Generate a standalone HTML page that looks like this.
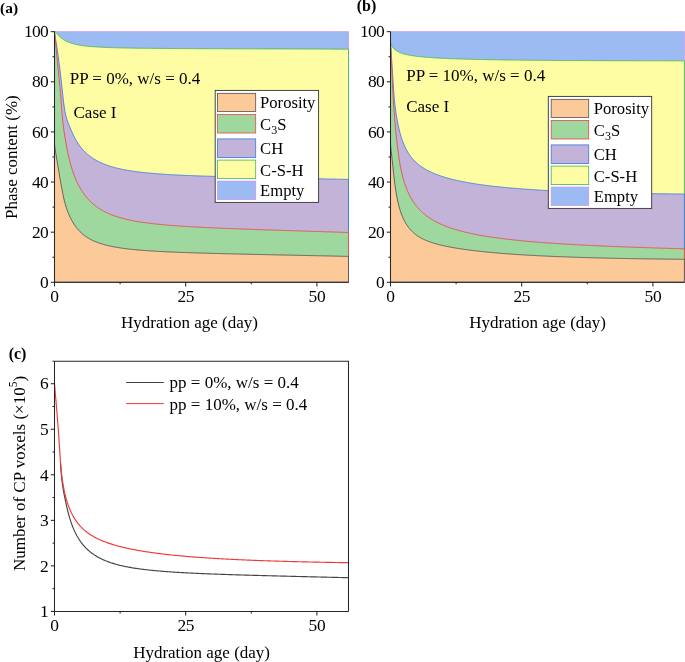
<!DOCTYPE html>
<html><head><meta charset="utf-8"><title>Phase content</title>
<style>html,body{margin:0;padding:0;background:#fff;}svg{display:block;will-change:transform;}text{fill:#000;}</style></head><body>
<svg width="685" height="662" viewBox="0 0 685 662">
<rect width="685" height="662" fill="#fff"/>
<g id="panelA">
<polygon points="54.50,282.30 54.50,31.65 348.50,31.65 348.50,282.30" fill="#9CBBF3" stroke="#C796EC" stroke-width="0.85" stroke-linejoin="round"/>
<polygon points="54.50,282.30 54.50,31.65 55.25,31.76 56.00,32.45 56.75,33.30 57.50,34.19 58.25,35.04 59.00,35.85 59.75,36.60 60.50,37.30 61.25,37.94 62.00,38.54 62.75,39.09 63.50,39.60 64.25,40.07 65.00,40.51 65.75,40.92 66.50,41.29 67.25,41.64 68.00,41.97 68.75,42.27 69.50,42.55 70.25,42.82 71.00,43.07 71.75,43.31 72.50,43.53 73.25,43.74 74.00,43.94 74.75,44.13 75.50,44.30 76.25,44.47 77.00,44.63 77.75,44.78 78.50,44.93 79.25,45.06 80.00,45.19 80.75,45.32 81.50,45.44 82.25,45.55 83.00,45.66 83.75,45.76 84.50,45.86 85.25,45.95 86.00,46.04 86.75,46.12 87.50,46.20 88.25,46.28 89.00,46.36 89.75,46.43 90.50,46.50 91.25,46.56 92.00,46.62 92.75,46.68 93.50,46.74 94.25,46.80 95.00,46.85 95.75,46.90 96.50,46.95 97.25,47.00 98.00,47.04 98.75,47.09 99.50,47.13 100.25,47.17 101.00,47.21 101.75,47.25 102.50,47.28 103.25,47.32 104.00,47.35 104.75,47.39 105.50,47.42 106.25,47.45 107.00,47.48 107.75,47.51 108.50,47.54 109.25,47.57 110.00,47.59 110.75,47.62 111.50,47.64 112.25,47.67 113.00,47.69 113.75,47.71 114.50,47.74 115.25,47.76 116.00,47.78 116.75,47.80 117.50,47.82 118.25,47.84 119.00,47.86 119.75,47.88 120.50,47.89 121.25,47.91 122.00,47.93 122.75,47.94 123.50,47.96 124.25,47.98 125.00,47.99 125.75,48.01 126.50,48.02 127.25,48.03 128.00,48.05 128.75,48.06 129.50,48.07 130.25,48.09 131.00,48.10 131.75,48.11 132.50,48.12 133.25,48.13 134.00,48.15 134.75,48.16 135.50,48.17 136.25,48.18 137.00,48.19 137.75,48.20 138.50,48.21 139.25,48.22 140.00,48.23 140.75,48.24 141.50,48.25 142.25,48.26 143.00,48.26 143.75,48.27 144.50,48.28 145.25,48.29 146.00,48.30 146.75,48.31 147.50,48.31 148.25,48.32 149.00,48.33 149.75,48.34 150.50,48.34 151.25,48.35 152.00,48.36 152.75,48.36 153.50,48.37 154.25,48.38 155.00,48.38 155.75,48.39 156.50,48.40 157.25,48.40 158.00,48.41 158.75,48.41 159.50,48.42 160.25,48.43 161.00,48.43 161.75,48.44 162.50,48.44 163.25,48.45 164.00,48.45 164.75,48.46 165.50,48.46 166.25,48.47 167.00,48.47 167.75,48.48 168.50,48.48 169.25,48.49 170.00,48.49 170.75,48.50 171.50,48.50 172.25,48.51 173.00,48.51 173.75,48.52 174.50,48.52 175.25,48.53 176.00,48.53 176.75,48.53 177.50,48.54 178.25,48.54 179.00,48.55 179.75,48.55 180.50,48.55 181.25,48.56 182.00,48.56 182.75,48.57 183.50,48.57 184.25,48.57 185.00,48.58 185.75,48.58 186.50,48.59 187.25,48.59 188.00,48.59 188.75,48.60 189.50,48.60 190.25,48.60 191.00,48.61 191.75,48.61 192.50,48.61 193.25,48.62 194.00,48.62 194.75,48.62 195.50,48.63 196.25,48.63 197.00,48.63 197.75,48.64 198.50,48.64 199.25,48.64 200.00,48.65 200.75,48.65 201.50,48.65 202.25,48.66 203.00,48.66 203.75,48.66 204.50,48.67 205.25,48.67 206.00,48.67 206.75,48.68 207.50,48.68 208.25,48.68 209.00,48.68 209.75,48.69 210.50,48.69 211.25,48.69 212.00,48.70 212.75,48.70 213.50,48.70 214.25,48.70 215.00,48.71 215.75,48.71 216.50,48.71 217.25,48.72 218.00,48.72 218.75,48.72 219.50,48.72 220.25,48.73 221.00,48.73 221.75,48.73 222.50,48.74 223.25,48.74 224.00,48.74 224.75,48.74 225.50,48.75 226.25,48.75 227.00,48.75 227.75,48.75 228.50,48.76 229.25,48.76 230.00,48.76 230.75,48.77 231.50,48.77 232.25,48.77 233.00,48.77 233.75,48.78 234.50,48.78 235.25,48.78 236.00,48.78 236.75,48.79 237.50,48.79 238.25,48.79 239.00,48.79 239.75,48.80 240.50,48.80 241.25,48.80 242.00,48.81 242.75,48.81 243.50,48.81 244.25,48.81 245.00,48.82 245.75,48.82 246.50,48.82 247.25,48.82 248.00,48.83 248.75,48.83 249.50,48.83 250.25,48.83 251.00,48.84 251.75,48.84 252.50,48.84 253.25,48.84 254.00,48.85 254.75,48.85 255.50,48.85 256.25,48.85 257.00,48.86 257.75,48.86 258.50,48.86 259.25,48.87 260.00,48.87 260.75,48.87 261.50,48.87 262.25,48.88 263.00,48.88 263.75,48.88 264.50,48.88 265.25,48.89 266.00,48.89 266.75,48.89 267.50,48.89 268.25,48.90 269.00,48.90 269.75,48.90 270.50,48.90 271.25,48.91 272.00,48.91 272.75,48.91 273.50,48.91 274.25,48.92 275.00,48.92 275.75,48.92 276.50,48.93 277.25,48.93 278.00,48.93 278.75,48.93 279.50,48.94 280.25,48.94 281.00,48.94 281.75,48.94 282.50,48.95 283.25,48.95 284.00,48.95 284.75,48.95 285.50,48.96 286.25,48.96 287.00,48.96 287.75,48.96 288.50,48.97 289.25,48.97 290.00,48.97 290.75,48.98 291.50,48.98 292.25,48.98 293.00,48.98 293.75,48.99 294.50,48.99 295.25,48.99 296.00,48.99 296.75,49.00 297.50,49.00 298.25,49.00 299.00,49.00 299.75,49.01 300.50,49.01 301.25,49.01 302.00,49.02 302.75,49.02 303.50,49.02 304.25,49.02 305.00,49.03 305.75,49.03 306.50,49.03 307.25,49.03 308.00,49.04 308.75,49.04 309.50,49.04 310.25,49.05 311.00,49.05 311.75,49.05 312.50,49.05 313.25,49.06 314.00,49.06 314.75,49.06 315.50,49.06 316.25,49.07 317.00,49.07 317.75,49.07 318.50,49.08 319.25,49.08 320.00,49.08 320.75,49.08 321.50,49.09 322.25,49.09 323.00,49.09 323.75,49.10 324.50,49.10 325.25,49.10 326.00,49.10 326.75,49.11 327.50,49.11 328.25,49.11 329.00,49.11 329.75,49.12 330.50,49.12 331.25,49.12 332.00,49.13 332.75,49.13 333.50,49.13 334.25,49.13 335.00,49.14 335.75,49.14 336.50,49.14 337.25,49.15 338.00,49.15 338.75,49.15 339.50,49.15 340.25,49.16 341.00,49.16 341.75,49.16 342.50,49.17 343.25,49.17 344.00,49.17 344.75,49.17 345.50,49.18 346.25,49.18 347.00,49.18 347.75,49.19 348.50,49.19 348.50,282.30" fill="#FFFDA3" stroke="#3DB856" stroke-width="0.85" stroke-linejoin="round"/>
<polygon points="54.50,282.30 54.50,31.65 55.25,37.02 56.00,41.64 56.75,46.39 57.50,51.45 58.25,56.80 59.00,62.42 59.75,68.31 60.50,74.51 61.25,81.03 62.00,87.86 62.75,94.86 63.50,101.45 64.25,107.11 65.00,111.67 65.75,115.28 66.50,118.19 67.25,120.60 68.00,122.69 68.75,124.56 69.50,126.31 70.25,128.01 71.00,129.73 71.75,131.44 72.50,133.13 73.25,134.77 74.00,136.34 74.75,137.82 75.50,139.22 76.25,140.55 77.00,141.80 77.75,142.99 78.50,144.12 79.25,145.20 80.00,146.22 80.75,147.20 81.50,148.12 82.25,149.01 83.00,149.86 83.75,150.67 84.50,151.45 85.25,152.19 86.00,152.90 86.75,153.59 87.50,154.25 88.25,154.88 89.00,155.49 89.75,156.07 90.50,156.63 91.25,157.17 92.00,157.70 92.75,158.20 93.50,158.68 94.25,159.15 95.00,159.60 95.75,160.04 96.50,160.46 97.25,160.87 98.00,161.27 98.75,161.65 99.50,162.02 100.25,162.38 101.00,162.73 101.75,163.06 102.50,163.39 103.25,163.70 104.00,164.01 104.75,164.31 105.50,164.60 106.25,164.88 107.00,165.15 107.75,165.41 108.50,165.67 109.25,165.92 110.00,166.16 110.75,166.40 111.50,166.63 112.25,166.85 113.00,167.07 113.75,167.28 114.50,167.48 115.25,167.68 116.00,167.88 116.75,168.07 117.50,168.25 118.25,168.43 119.00,168.61 119.75,168.78 120.50,168.94 121.25,169.10 122.00,169.26 122.75,169.42 123.50,169.57 124.25,169.71 125.00,169.86 125.75,169.99 126.50,170.13 127.25,170.26 128.00,170.39 128.75,170.52 129.50,170.64 130.25,170.76 131.00,170.88 131.75,171.00 132.50,171.11 133.25,171.22 134.00,171.33 134.75,171.43 135.50,171.54 136.25,171.64 137.00,171.73 137.75,171.83 138.50,171.93 139.25,172.02 140.00,172.11 140.75,172.20 141.50,172.28 142.25,172.37 143.00,172.45 143.75,172.53 144.50,172.61 145.25,172.69 146.00,172.77 146.75,172.84 147.50,172.92 148.25,172.99 149.00,173.06 149.75,173.13 150.50,173.20 151.25,173.27 152.00,173.33 152.75,173.40 153.50,173.46 154.25,173.52 155.00,173.58 155.75,173.64 156.50,173.70 157.25,173.76 158.00,173.82 158.75,173.87 159.50,173.93 160.25,173.98 161.00,174.04 161.75,174.09 162.50,174.14 163.25,174.19 164.00,174.24 164.75,174.29 165.50,174.34 166.25,174.38 167.00,174.43 167.75,174.48 168.50,174.52 169.25,174.57 170.00,174.61 170.75,174.65 171.50,174.70 172.25,174.74 173.00,174.78 173.75,174.82 174.50,174.86 175.25,174.90 176.00,174.94 176.75,174.98 177.50,175.01 178.25,175.05 179.00,175.09 179.75,175.12 180.50,175.16 181.25,175.19 182.00,175.23 182.75,175.26 183.50,175.30 184.25,175.33 185.00,175.36 185.75,175.40 186.50,175.43 187.25,175.46 188.00,175.49 188.75,175.52 189.50,175.55 190.25,175.59 191.00,175.62 191.75,175.64 192.50,175.67 193.25,175.70 194.00,175.73 194.75,175.76 195.50,175.79 196.25,175.82 197.00,175.84 197.75,175.87 198.50,175.90 199.25,175.92 200.00,175.95 200.75,175.98 201.50,176.00 202.25,176.03 203.00,176.05 203.75,176.08 204.50,176.10 205.25,176.13 206.00,176.15 206.75,176.18 207.50,176.20 208.25,176.22 209.00,176.25 209.75,176.27 210.50,176.29 211.25,176.32 212.00,176.34 212.75,176.36 213.50,176.38 214.25,176.41 215.00,176.43 215.75,176.45 216.50,176.47 217.25,176.49 218.00,176.52 218.75,176.54 219.50,176.56 220.25,176.58 221.00,176.60 221.75,176.62 222.50,176.64 223.25,176.66 224.00,176.68 224.75,176.70 225.50,176.72 226.25,176.74 227.00,176.76 227.75,176.78 228.50,176.80 229.25,176.82 230.00,176.84 230.75,176.86 231.50,176.88 232.25,176.90 233.00,176.91 233.75,176.93 234.50,176.95 235.25,176.97 236.00,176.99 236.75,177.01 237.50,177.03 238.25,177.04 239.00,177.06 239.75,177.08 240.50,177.10 241.25,177.12 242.00,177.13 242.75,177.15 243.50,177.17 244.25,177.19 245.00,177.20 245.75,177.22 246.50,177.24 247.25,177.26 248.00,177.27 248.75,177.29 249.50,177.31 250.25,177.32 251.00,177.34 251.75,177.36 252.50,177.38 253.25,177.39 254.00,177.41 254.75,177.43 255.50,177.44 256.25,177.46 257.00,177.48 257.75,177.49 258.50,177.51 259.25,177.53 260.00,177.54 260.75,177.56 261.50,177.58 262.25,177.59 263.00,177.61 263.75,177.62 264.50,177.64 265.25,177.66 266.00,177.67 266.75,177.69 267.50,177.71 268.25,177.72 269.00,177.74 269.75,177.75 270.50,177.77 271.25,177.79 272.00,177.80 272.75,177.82 273.50,177.83 274.25,177.85 275.00,177.86 275.75,177.88 276.50,177.90 277.25,177.91 278.00,177.93 278.75,177.94 279.50,177.96 280.25,177.98 281.00,177.99 281.75,178.01 282.50,178.02 283.25,178.04 284.00,178.05 284.75,178.07 285.50,178.09 286.25,178.10 287.00,178.12 287.75,178.13 288.50,178.15 289.25,178.16 290.00,178.18 290.75,178.19 291.50,178.21 292.25,178.23 293.00,178.24 293.75,178.26 294.50,178.27 295.25,178.29 296.00,178.30 296.75,178.32 297.50,178.33 298.25,178.35 299.00,178.37 299.75,178.38 300.50,178.40 301.25,178.41 302.00,178.43 302.75,178.44 303.50,178.46 304.25,178.47 305.00,178.49 305.75,178.50 306.50,178.52 307.25,178.54 308.00,178.55 308.75,178.57 309.50,178.58 310.25,178.60 311.00,178.61 311.75,178.63 312.50,178.64 313.25,178.66 314.00,178.68 314.75,178.69 315.50,178.71 316.25,178.72 317.00,178.74 317.75,178.75 318.50,178.77 319.25,178.78 320.00,178.80 320.75,178.82 321.50,178.83 322.25,178.85 323.00,178.86 323.75,178.88 324.50,178.89 325.25,178.91 326.00,178.93 326.75,178.94 327.50,178.96 328.25,178.97 329.00,178.99 329.75,179.00 330.50,179.02 331.25,179.04 332.00,179.05 332.75,179.07 333.50,179.08 334.25,179.10 335.00,179.11 335.75,179.13 336.50,179.15 337.25,179.16 338.00,179.18 338.75,179.19 339.50,179.21 340.25,179.22 341.00,179.24 341.75,179.26 342.50,179.27 343.25,179.29 344.00,179.30 344.75,179.32 345.50,179.34 346.25,179.35 347.00,179.37 347.75,179.38 348.50,179.40 348.50,282.30" fill="#C4B3D8" stroke="#3778E4" stroke-width="0.85" stroke-linejoin="round"/>
<polygon points="54.50,282.30 54.50,31.65 55.25,39.45 56.00,47.15 56.75,54.92 57.50,62.74 58.25,70.57 59.00,78.27 59.75,85.74 60.50,93.65 61.25,103.10 62.00,113.22 62.75,121.17 63.50,127.33 64.25,132.64 65.00,137.53 65.75,142.04 66.50,146.21 67.25,150.08 68.00,153.67 68.75,157.00 69.50,160.10 70.25,162.98 71.00,165.67 71.75,168.19 72.50,170.54 73.25,172.75 74.00,174.84 74.75,176.80 75.50,178.65 76.25,180.40 77.00,182.06 77.75,183.63 78.50,185.12 79.25,186.54 80.00,187.89 80.75,189.18 81.50,190.41 82.25,191.58 83.00,192.70 83.75,193.77 84.50,194.79 85.25,195.78 86.00,196.72 86.75,197.62 87.50,198.49 88.25,199.32 89.00,200.12 89.75,200.89 90.50,201.63 91.25,202.34 92.00,203.03 92.75,203.69 93.50,204.33 94.25,204.95 95.00,205.54 95.75,206.12 96.50,206.67 97.25,207.21 98.00,207.73 98.75,208.23 99.50,208.72 100.25,209.19 101.00,209.64 101.75,210.08 102.50,210.51 103.25,210.92 104.00,211.33 104.75,211.71 105.50,212.09 106.25,212.46 107.00,212.81 107.75,213.16 108.50,213.49 109.25,213.82 110.00,214.14 110.75,214.44 111.50,214.74 112.25,215.03 113.00,215.31 113.75,215.59 114.50,215.85 115.25,216.11 116.00,216.37 116.75,216.61 117.50,216.85 118.25,217.09 119.00,217.32 119.75,217.54 120.50,217.75 121.25,217.97 122.00,218.17 122.75,218.37 123.50,218.57 124.25,218.76 125.00,218.95 125.75,219.13 126.50,219.31 127.25,219.48 128.00,219.65 128.75,219.82 129.50,219.98 130.25,220.14 131.00,220.29 131.75,220.45 132.50,220.59 133.25,220.74 134.00,220.88 134.75,221.02 135.50,221.16 136.25,221.29 137.00,221.42 137.75,221.55 138.50,221.68 139.25,221.80 140.00,221.92 140.75,222.04 141.50,222.15 142.25,222.27 143.00,222.38 143.75,222.49 144.50,222.59 145.25,222.70 146.00,222.80 146.75,222.90 147.50,223.00 148.25,223.10 149.00,223.20 149.75,223.29 150.50,223.38 151.25,223.47 152.00,223.56 152.75,223.65 153.50,223.74 154.25,223.82 155.00,223.90 155.75,223.99 156.50,224.07 157.25,224.15 158.00,224.22 158.75,224.30 159.50,224.38 160.25,224.45 161.00,224.52 161.75,224.60 162.50,224.67 163.25,224.74 164.00,224.81 164.75,224.87 165.50,224.94 166.25,225.01 167.00,225.07 167.75,225.13 168.50,225.20 169.25,225.26 170.00,225.32 170.75,225.38 171.50,225.44 172.25,225.50 173.00,225.56 173.75,225.61 174.50,225.67 175.25,225.72 176.00,225.78 176.75,225.83 177.50,225.89 178.25,225.94 179.00,225.99 179.75,226.04 180.50,226.09 181.25,226.14 182.00,226.19 182.75,226.24 183.50,226.29 184.25,226.34 185.00,226.39 185.75,226.43 186.50,226.48 187.25,226.53 188.00,226.57 188.75,226.62 189.50,226.66 190.25,226.70 191.00,226.75 191.75,226.79 192.50,226.83 193.25,226.88 194.00,226.92 194.75,226.96 195.50,227.00 196.25,227.04 197.00,227.08 197.75,227.12 198.50,227.16 199.25,227.20 200.00,227.24 200.75,227.28 201.50,227.31 202.25,227.35 203.00,227.39 203.75,227.43 204.50,227.46 205.25,227.50 206.00,227.53 206.75,227.57 207.50,227.61 208.25,227.64 209.00,227.68 209.75,227.71 210.50,227.75 211.25,227.78 212.00,227.81 212.75,227.85 213.50,227.88 214.25,227.91 215.00,227.95 215.75,227.98 216.50,228.01 217.25,228.05 218.00,228.08 218.75,228.11 219.50,228.14 220.25,228.17 221.00,228.20 221.75,228.24 222.50,228.27 223.25,228.30 224.00,228.33 224.75,228.36 225.50,228.39 226.25,228.42 227.00,228.45 227.75,228.48 228.50,228.51 229.25,228.54 230.00,228.57 230.75,228.60 231.50,228.63 232.25,228.65 233.00,228.68 233.75,228.71 234.50,228.74 235.25,228.77 236.00,228.80 236.75,228.82 237.50,228.85 238.25,228.88 239.00,228.91 239.75,228.94 240.50,228.96 241.25,228.99 242.00,229.02 242.75,229.05 243.50,229.07 244.25,229.10 245.00,229.13 245.75,229.15 246.50,229.18 247.25,229.21 248.00,229.23 248.75,229.26 249.50,229.29 250.25,229.31 251.00,229.34 251.75,229.37 252.50,229.39 253.25,229.42 254.00,229.44 254.75,229.47 255.50,229.50 256.25,229.52 257.00,229.55 257.75,229.57 258.50,229.60 259.25,229.63 260.00,229.65 260.75,229.68 261.50,229.70 262.25,229.73 263.00,229.75 263.75,229.78 264.50,229.80 265.25,229.83 266.00,229.85 266.75,229.88 267.50,229.90 268.25,229.93 269.00,229.95 269.75,229.98 270.50,230.00 271.25,230.03 272.00,230.05 272.75,230.08 273.50,230.10 274.25,230.13 275.00,230.15 275.75,230.18 276.50,230.20 277.25,230.22 278.00,230.25 278.75,230.27 279.50,230.30 280.25,230.32 281.00,230.35 281.75,230.37 282.50,230.40 283.25,230.42 284.00,230.44 284.75,230.47 285.50,230.49 286.25,230.52 287.00,230.54 287.75,230.56 288.50,230.59 289.25,230.61 290.00,230.64 290.75,230.66 291.50,230.69 292.25,230.71 293.00,230.73 293.75,230.76 294.50,230.78 295.25,230.81 296.00,230.83 296.75,230.85 297.50,230.88 298.25,230.90 299.00,230.93 299.75,230.95 300.50,230.97 301.25,231.00 302.00,231.02 302.75,231.05 303.50,231.07 304.25,231.09 305.00,231.12 305.75,231.14 306.50,231.16 307.25,231.19 308.00,231.21 308.75,231.24 309.50,231.26 310.25,231.28 311.00,231.31 311.75,231.33 312.50,231.36 313.25,231.38 314.00,231.40 314.75,231.43 315.50,231.45 316.25,231.48 317.00,231.50 317.75,231.52 318.50,231.55 319.25,231.57 320.00,231.59 320.75,231.62 321.50,231.64 322.25,231.67 323.00,231.69 323.75,231.71 324.50,231.74 325.25,231.76 326.00,231.79 326.75,231.81 327.50,231.83 328.25,231.86 329.00,231.88 329.75,231.91 330.50,231.93 331.25,231.95 332.00,231.98 332.75,232.00 333.50,232.03 334.25,232.05 335.00,232.07 335.75,232.10 336.50,232.12 337.25,232.15 338.00,232.17 338.75,232.19 339.50,232.22 340.25,232.24 341.00,232.27 341.75,232.29 342.50,232.31 343.25,232.34 344.00,232.36 344.75,232.39 345.50,232.41 346.25,232.44 347.00,232.46 347.75,232.48 348.50,232.51 348.50,282.30" fill="#9ED89F" stroke="#E8483E" stroke-width="0.85" stroke-linejoin="round"/>
<polygon points="54.50,282.30 54.50,144.50 55.25,150.19 56.00,154.74 56.75,159.10 57.50,163.51 58.25,168.03 59.00,172.57 59.75,177.04 60.50,181.37 61.25,185.55 62.00,189.55 62.75,193.37 63.50,196.97 64.25,200.28 65.00,203.29 65.75,205.96 66.50,208.34 67.25,210.49 68.00,212.44 68.75,214.24 69.50,215.92 70.25,217.50 71.00,218.99 71.75,220.39 72.50,221.72 73.25,222.97 74.00,224.16 74.75,225.28 75.50,226.34 76.25,227.35 77.00,228.30 77.75,229.21 78.50,230.07 79.25,230.89 80.00,231.66 80.75,232.40 81.50,233.10 82.25,233.76 83.00,234.40 83.75,235.00 84.50,235.57 85.25,236.12 86.00,236.65 86.75,237.15 87.50,237.63 88.25,238.09 89.00,238.53 89.75,238.95 90.50,239.36 91.25,239.75 92.00,240.12 92.75,240.48 93.50,240.83 94.25,241.16 95.00,241.48 95.75,241.79 96.50,242.09 97.25,242.37 98.00,242.65 98.75,242.92 99.50,243.18 100.25,243.43 101.00,243.67 101.75,243.90 102.50,244.13 103.25,244.35 104.00,244.56 104.75,244.77 105.50,244.97 106.25,245.16 107.00,245.35 107.75,245.53 108.50,245.70 109.25,245.88 110.00,246.04 110.75,246.20 111.50,246.36 112.25,246.51 113.00,246.66 113.75,246.81 114.50,246.95 115.25,247.08 116.00,247.21 116.75,247.34 117.50,247.47 118.25,247.59 119.00,247.71 119.75,247.83 120.50,247.94 121.25,248.05 122.00,248.16 122.75,248.27 123.50,248.37 124.25,248.47 125.00,248.57 125.75,248.67 126.50,248.76 127.25,248.85 128.00,248.94 128.75,249.03 129.50,249.11 130.25,249.20 131.00,249.28 131.75,249.36 132.50,249.44 133.25,249.51 134.00,249.59 134.75,249.66 135.50,249.73 136.25,249.80 137.00,249.87 137.75,249.94 138.50,250.01 139.25,250.07 140.00,250.14 140.75,250.20 141.50,250.26 142.25,250.32 143.00,250.38 143.75,250.44 144.50,250.49 145.25,250.55 146.00,250.61 146.75,250.66 147.50,250.71 148.25,250.76 149.00,250.81 149.75,250.87 150.50,250.91 151.25,250.96 152.00,251.01 152.75,251.06 153.50,251.10 154.25,251.15 155.00,251.19 155.75,251.24 156.50,251.28 157.25,251.32 158.00,251.37 158.75,251.41 159.50,251.45 160.25,251.49 161.00,251.53 161.75,251.57 162.50,251.60 163.25,251.64 164.00,251.68 164.75,251.72 165.50,251.75 166.25,251.79 167.00,251.82 167.75,251.86 168.50,251.89 169.25,251.93 170.00,251.96 170.75,251.99 171.50,252.03 172.25,252.06 173.00,252.09 173.75,252.12 174.50,252.15 175.25,252.18 176.00,252.21 176.75,252.24 177.50,252.27 178.25,252.30 179.00,252.33 179.75,252.36 180.50,252.39 181.25,252.42 182.00,252.44 182.75,252.47 183.50,252.50 184.25,252.53 185.00,252.55 185.75,252.58 186.50,252.60 187.25,252.63 188.00,252.66 188.75,252.68 189.50,252.71 190.25,252.73 191.00,252.76 191.75,252.78 192.50,252.81 193.25,252.83 194.00,252.85 194.75,252.88 195.50,252.90 196.25,252.92 197.00,252.95 197.75,252.97 198.50,252.99 199.25,253.01 200.00,253.04 200.75,253.06 201.50,253.08 202.25,253.10 203.00,253.13 203.75,253.15 204.50,253.17 205.25,253.19 206.00,253.21 206.75,253.23 207.50,253.25 208.25,253.27 209.00,253.29 209.75,253.31 210.50,253.34 211.25,253.36 212.00,253.38 212.75,253.40 213.50,253.42 214.25,253.44 215.00,253.45 215.75,253.47 216.50,253.49 217.25,253.51 218.00,253.53 218.75,253.55 219.50,253.57 220.25,253.59 221.00,253.61 221.75,253.63 222.50,253.65 223.25,253.67 224.00,253.68 224.75,253.70 225.50,253.72 226.25,253.74 227.00,253.76 227.75,253.78 228.50,253.79 229.25,253.81 230.00,253.83 230.75,253.85 231.50,253.87 232.25,253.88 233.00,253.90 233.75,253.92 234.50,253.94 235.25,253.95 236.00,253.97 236.75,253.99 237.50,254.01 238.25,254.02 239.00,254.04 239.75,254.06 240.50,254.08 241.25,254.09 242.00,254.11 242.75,254.13 243.50,254.14 244.25,254.16 245.00,254.18 245.75,254.20 246.50,254.21 247.25,254.23 248.00,254.25 248.75,254.26 249.50,254.28 250.25,254.30 251.00,254.31 251.75,254.33 252.50,254.35 253.25,254.36 254.00,254.38 254.75,254.40 255.50,254.41 256.25,254.43 257.00,254.45 257.75,254.46 258.50,254.48 259.25,254.49 260.00,254.51 260.75,254.53 261.50,254.54 262.25,254.56 263.00,254.58 263.75,254.59 264.50,254.61 265.25,254.63 266.00,254.64 266.75,254.66 267.50,254.67 268.25,254.69 269.00,254.71 269.75,254.72 270.50,254.74 271.25,254.75 272.00,254.77 272.75,254.79 273.50,254.80 274.25,254.82 275.00,254.83 275.75,254.85 276.50,254.87 277.25,254.88 278.00,254.90 278.75,254.91 279.50,254.93 280.25,254.95 281.00,254.96 281.75,254.98 282.50,254.99 283.25,255.01 284.00,255.03 284.75,255.04 285.50,255.06 286.25,255.07 287.00,255.09 287.75,255.11 288.50,255.12 289.25,255.14 290.00,255.15 290.75,255.17 291.50,255.19 292.25,255.20 293.00,255.22 293.75,255.23 294.50,255.25 295.25,255.27 296.00,255.28 296.75,255.30 297.50,255.31 298.25,255.33 299.00,255.34 299.75,255.36 300.50,255.38 301.25,255.39 302.00,255.41 302.75,255.42 303.50,255.44 304.25,255.46 305.00,255.47 305.75,255.49 306.50,255.50 307.25,255.52 308.00,255.54 308.75,255.55 309.50,255.57 310.25,255.58 311.00,255.60 311.75,255.61 312.50,255.63 313.25,255.65 314.00,255.66 314.75,255.68 315.50,255.69 316.25,255.71 317.00,255.73 317.75,255.74 318.50,255.76 319.25,255.77 320.00,255.79 320.75,255.81 321.50,255.82 322.25,255.84 323.00,255.85 323.75,255.87 324.50,255.89 325.25,255.90 326.00,255.92 326.75,255.93 327.50,255.95 328.25,255.97 329.00,255.98 329.75,256.00 330.50,256.01 331.25,256.03 332.00,256.05 332.75,256.06 333.50,256.08 334.25,256.09 335.00,256.11 335.75,256.13 336.50,256.14 337.25,256.16 338.00,256.18 338.75,256.19 339.50,256.21 340.25,256.22 341.00,256.24 341.75,256.26 342.50,256.27 343.25,256.29 344.00,256.30 344.75,256.32 345.50,256.34 346.25,256.35 347.00,256.37 347.75,256.39 348.50,256.40 348.50,282.30" fill="#FCC999" stroke="#505050" stroke-width="0.85" stroke-linejoin="round"/>
<path d="M54.50,31.65 V282.30 H348.50" fill="none" stroke="#262626" stroke-width="1.05"/>
<line x1="54.50" y1="282.30" x2="54.50" y2="286.40" stroke="#262626" stroke-width="1.05"/>
<text x="54.50" y="301.90" font-family="Liberation Serif, serif" font-size="17.4" letter-spacing="-0.4" text-anchor="middle">0</text>
<line x1="185.70" y1="282.30" x2="185.70" y2="286.40" stroke="#262626" stroke-width="1.05"/>
<text x="185.70" y="301.90" font-family="Liberation Serif, serif" font-size="17.4" letter-spacing="-0.4" text-anchor="middle">25</text>
<line x1="316.90" y1="282.30" x2="316.90" y2="286.40" stroke="#262626" stroke-width="1.05"/>
<text x="316.90" y="301.90" font-family="Liberation Serif, serif" font-size="17.4" letter-spacing="-0.4" text-anchor="middle">50</text>
<line x1="120.10" y1="282.30" x2="120.10" y2="284.30" stroke="#262626" stroke-width="1.05"/>
<line x1="251.30" y1="282.30" x2="251.30" y2="284.30" stroke="#262626" stroke-width="1.05"/>
<line x1="50.80" y1="282.30" x2="54.50" y2="282.30" stroke="#262626" stroke-width="1.05"/>
<text x="47.90" y="288.00" font-family="Liberation Serif, serif" font-size="17.4" letter-spacing="-0.75" text-anchor="end">0</text>
<line x1="50.80" y1="232.17" x2="54.50" y2="232.17" stroke="#262626" stroke-width="1.05"/>
<text x="47.90" y="237.87" font-family="Liberation Serif, serif" font-size="17.4" letter-spacing="-0.75" text-anchor="end">20</text>
<line x1="50.80" y1="182.04" x2="54.50" y2="182.04" stroke="#262626" stroke-width="1.05"/>
<text x="47.90" y="187.74" font-family="Liberation Serif, serif" font-size="17.4" letter-spacing="-0.75" text-anchor="end">40</text>
<line x1="50.80" y1="131.91" x2="54.50" y2="131.91" stroke="#262626" stroke-width="1.05"/>
<text x="47.90" y="137.61" font-family="Liberation Serif, serif" font-size="17.4" letter-spacing="-0.75" text-anchor="end">60</text>
<line x1="50.80" y1="81.78" x2="54.50" y2="81.78" stroke="#262626" stroke-width="1.05"/>
<text x="47.90" y="87.48" font-family="Liberation Serif, serif" font-size="17.4" letter-spacing="-0.75" text-anchor="end">80</text>
<line x1="50.80" y1="31.65" x2="54.50" y2="31.65" stroke="#262626" stroke-width="1.05"/>
<text x="47.90" y="37.35" font-family="Liberation Serif, serif" font-size="17.4" letter-spacing="-0.75" text-anchor="end">100</text>
<line x1="52.50" y1="257.24" x2="54.50" y2="257.24" stroke="#262626" stroke-width="1.05"/>
<line x1="52.50" y1="207.11" x2="54.50" y2="207.11" stroke="#262626" stroke-width="1.05"/>
<line x1="52.50" y1="156.98" x2="54.50" y2="156.98" stroke="#262626" stroke-width="1.05"/>
<line x1="52.50" y1="106.85" x2="54.50" y2="106.85" stroke="#262626" stroke-width="1.05"/>
<line x1="52.50" y1="56.72" x2="54.50" y2="56.72" stroke="#262626" stroke-width="1.05"/>
<rect x="215.20" y="90.40" width="103.4" height="112" fill="#fff" stroke="#333" stroke-width="0.9"/>
<rect x="217.50" y="93.35" width="38.2" height="18.05" fill="#FCC999" stroke="#505050" stroke-width="0.8"/>
<text x="260.10" y="108.10" font-family="Liberation Serif, serif" font-size="16.6">Porosity</text>
<rect x="217.50" y="114.40" width="38.2" height="18.60" fill="#9ED89F" stroke="#E8483E" stroke-width="0.8"/>
<text x="260.10" y="130.10" font-family="Liberation Serif, serif" font-size="16.6">C<tspan font-size="12" dy="4">3</tspan><tspan dy="-4">S</tspan></text>
<rect x="217.50" y="138.90" width="38.2" height="18.70" fill="#C4B3D8" stroke="#3778E4" stroke-width="0.8"/>
<text x="260.10" y="154.30" font-family="Liberation Serif, serif" font-size="16.6">CH</text>
<rect x="217.50" y="160.10" width="38.2" height="18.50" fill="#FFFDA3" stroke="#3DB856" stroke-width="0.8"/>
<text x="260.10" y="175.60" font-family="Liberation Serif, serif" font-size="16.6">C-S-H</text>
<rect x="217.50" y="181.10" width="38.2" height="18.30" fill="#9CBBF3" stroke="#C796EC" stroke-width="0.8"/>
<text x="260.10" y="195.90" font-family="Liberation Serif, serif" font-size="16.6">Empty</text>
<text x="69.8" y="84.1" font-family="Liberation Serif, serif" font-size="17">PP = 0%, w/s = 0.4</text>
<text x="73.5" y="118.4" font-family="Liberation Serif, serif" font-size="17">Case I</text>
<text x="0.1" y="13.2" font-family="Liberation Serif, serif" font-size="15.4" font-weight="bold">(a)</text>
<text x="189.5" y="327.8" font-family="Liberation Serif, serif" font-size="17" text-anchor="middle">Hydration age (day)</text>
<text transform="translate(17.1,157.1) rotate(-90)" font-family="Liberation Serif, serif" font-size="17" text-anchor="middle">Phase content (%)</text>
</g>
<g id="panelB">
<polygon points="390.50,282.30 390.50,31.65 684.40,31.65 684.40,282.30" fill="#9CBBF3" stroke="#C796EC" stroke-width="0.85" stroke-linejoin="round"/>
<polygon points="390.50,282.30 390.50,42.30 391.25,44.47 392.00,46.02 392.75,47.22 393.50,48.18 394.25,48.99 395.00,49.67 395.75,50.26 396.50,50.78 397.25,51.24 398.00,51.65 398.75,52.03 399.50,52.37 400.25,52.68 401.00,52.97 401.75,53.24 402.50,53.48 403.25,53.72 404.00,53.93 404.75,54.14 405.50,54.33 406.25,54.51 407.00,54.68 407.75,54.84 408.50,54.99 409.25,55.14 410.00,55.28 410.75,55.41 411.50,55.54 412.25,55.66 413.00,55.78 413.75,55.89 414.50,55.99 415.25,56.10 416.00,56.20 416.75,56.29 417.50,56.38 418.25,56.47 419.00,56.56 419.75,56.64 420.50,56.72 421.25,56.80 422.00,56.87 422.75,56.95 423.50,57.02 424.25,57.09 425.00,57.15 425.75,57.22 426.50,57.28 427.25,57.34 428.00,57.40 428.75,57.46 429.50,57.51 430.25,57.57 431.00,57.62 431.75,57.67 432.50,57.72 433.25,57.77 434.00,57.82 434.75,57.87 435.50,57.91 436.25,57.96 437.00,58.00 437.75,58.05 438.50,58.09 439.25,58.13 440.00,58.17 440.75,58.21 441.50,58.25 442.25,58.28 443.00,58.32 443.75,58.36 444.50,58.39 445.25,58.43 446.00,58.46 446.75,58.49 447.50,58.53 448.25,58.56 449.00,58.59 449.75,58.62 450.50,58.65 451.25,58.68 452.00,58.71 452.75,58.74 453.50,58.77 454.25,58.79 455.00,58.82 455.75,58.85 456.50,58.87 457.25,58.90 458.00,58.92 458.75,58.95 459.50,58.97 460.25,59.00 461.00,59.02 461.75,59.04 462.50,59.07 463.25,59.09 464.00,59.11 464.75,59.13 465.50,59.15 466.25,59.17 467.00,59.19 467.75,59.22 468.50,59.24 469.25,59.26 470.00,59.27 470.75,59.29 471.50,59.31 472.25,59.33 473.00,59.35 473.75,59.37 474.50,59.39 475.25,59.40 476.00,59.42 476.75,59.44 477.50,59.45 478.25,59.47 479.00,59.49 479.75,59.50 480.50,59.52 481.25,59.53 482.00,59.55 482.75,59.57 483.50,59.58 484.25,59.59 485.00,59.61 485.75,59.62 486.50,59.64 487.25,59.65 488.00,59.67 488.75,59.68 489.50,59.69 490.25,59.71 491.00,59.72 491.75,59.73 492.50,59.75 493.25,59.76 494.00,59.77 494.75,59.78 495.50,59.79 496.25,59.81 497.00,59.82 497.75,59.83 498.50,59.84 499.25,59.85 500.00,59.86 500.75,59.88 501.50,59.89 502.25,59.90 503.00,59.91 503.75,59.92 504.50,59.93 505.25,59.94 506.00,59.95 506.75,59.96 507.50,59.97 508.25,59.98 509.00,59.99 509.75,60.00 510.50,60.01 511.25,60.02 512.00,60.03 512.75,60.04 513.50,60.05 514.25,60.06 515.00,60.06 515.75,60.07 516.50,60.08 517.25,60.09 518.00,60.10 518.75,60.11 519.50,60.12 520.25,60.12 521.00,60.13 521.75,60.14 522.50,60.15 523.25,60.16 524.00,60.16 524.75,60.17 525.50,60.18 526.25,60.19 527.00,60.19 527.75,60.20 528.50,60.21 529.25,60.22 530.00,60.22 530.75,60.23 531.50,60.24 532.25,60.24 533.00,60.25 533.75,60.26 534.50,60.27 535.25,60.27 536.00,60.28 536.75,60.28 537.50,60.29 538.25,60.30 539.00,60.30 539.75,60.31 540.50,60.32 541.25,60.32 542.00,60.33 542.75,60.33 543.50,60.34 544.25,60.35 545.00,60.35 545.75,60.36 546.50,60.36 547.25,60.37 548.00,60.37 548.75,60.38 549.50,60.39 550.25,60.39 551.00,60.40 551.75,60.40 552.50,60.41 553.25,60.41 554.00,60.42 554.75,60.42 555.50,60.43 556.25,60.43 557.00,60.44 557.75,60.44 558.50,60.45 559.25,60.45 560.00,60.46 560.75,60.46 561.50,60.47 562.25,60.47 563.00,60.48 563.75,60.48 564.50,60.48 565.25,60.49 566.00,60.49 566.75,60.50 567.50,60.50 568.25,60.51 569.00,60.51 569.75,60.51 570.50,60.52 571.25,60.52 572.00,60.53 572.75,60.53 573.50,60.53 574.25,60.54 575.00,60.54 575.75,60.55 576.50,60.55 577.25,60.55 578.00,60.56 578.75,60.56 579.50,60.56 580.25,60.57 581.00,60.57 581.75,60.58 582.50,60.58 583.25,60.58 584.00,60.59 584.75,60.59 585.50,60.59 586.25,60.60 587.00,60.60 587.75,60.60 588.50,60.61 589.25,60.61 590.00,60.61 590.75,60.62 591.50,60.62 592.25,60.62 593.00,60.63 593.75,60.63 594.50,60.63 595.25,60.63 596.00,60.64 596.75,60.64 597.50,60.64 598.25,60.65 599.00,60.65 599.75,60.65 600.50,60.65 601.25,60.66 602.00,60.66 602.75,60.66 603.50,60.67 604.25,60.67 605.00,60.67 605.75,60.67 606.50,60.68 607.25,60.68 608.00,60.68 608.75,60.68 609.50,60.69 610.25,60.69 611.00,60.69 611.75,60.69 612.50,60.70 613.25,60.70 614.00,60.70 614.75,60.70 615.50,60.71 616.25,60.71 617.00,60.71 617.75,60.71 618.50,60.71 619.25,60.72 620.00,60.72 620.75,60.72 621.50,60.72 622.25,60.72 623.00,60.73 623.75,60.73 624.50,60.73 625.25,60.73 626.00,60.74 626.75,60.74 627.50,60.74 628.25,60.74 629.00,60.74 629.75,60.74 630.50,60.75 631.25,60.75 632.00,60.75 632.75,60.75 633.50,60.75 634.25,60.76 635.00,60.76 635.75,60.76 636.50,60.76 637.25,60.76 638.00,60.76 638.75,60.77 639.50,60.77 640.25,60.77 641.00,60.77 641.75,60.77 642.50,60.77 643.25,60.78 644.00,60.78 644.75,60.78 645.50,60.78 646.25,60.78 647.00,60.78 647.75,60.79 648.50,60.79 649.25,60.79 650.00,60.79 650.75,60.79 651.50,60.79 652.25,60.79 653.00,60.79 653.75,60.80 654.50,60.80 655.25,60.80 656.00,60.80 656.75,60.80 657.50,60.80 658.25,60.80 659.00,60.81 659.75,60.81 660.50,60.81 661.25,60.81 662.00,60.81 662.75,60.81 663.50,60.81 664.25,60.81 665.00,60.81 665.75,60.82 666.50,60.82 667.25,60.82 668.00,60.82 668.75,60.82 669.50,60.82 670.25,60.82 671.00,60.82 671.75,60.82 672.50,60.83 673.25,60.83 674.00,60.83 674.75,60.83 675.50,60.83 676.25,60.83 677.00,60.83 677.75,60.83 678.50,60.83 679.25,60.83 680.00,60.84 680.75,60.84 681.50,60.84 682.25,60.84 683.00,60.84 683.75,60.84 684.40,60.84 684.40,282.30" fill="#FFFDA3" stroke="#3DB856" stroke-width="0.85" stroke-linejoin="round"/>
<polygon points="390.50,282.30 390.50,42.30 391.25,53.72 392.00,64.98 392.75,76.47 393.50,88.14 394.25,98.50 395.00,105.57 395.75,111.33 396.50,116.31 397.25,120.68 398.00,124.54 398.75,127.98 399.50,131.08 400.25,133.88 401.00,136.43 401.75,138.76 402.50,140.90 403.25,142.87 404.00,144.69 404.75,146.38 405.50,147.96 406.25,149.43 407.00,150.80 407.75,152.09 408.50,153.29 409.25,154.43 410.00,155.50 410.75,156.52 411.50,157.48 412.25,158.39 413.00,159.25 413.75,160.08 414.50,160.86 415.25,161.61 416.00,162.33 416.75,163.01 417.50,163.67 418.25,164.30 419.00,164.90 419.75,165.48 420.50,166.04 421.25,166.58 422.00,167.10 422.75,167.60 423.50,168.08 424.25,168.55 425.00,169.00 425.75,169.43 426.50,169.86 427.25,170.27 428.00,170.66 428.75,171.05 429.50,171.42 430.25,171.79 431.00,172.14 431.75,172.48 432.50,172.82 433.25,173.14 434.00,173.46 434.75,173.77 435.50,174.07 436.25,174.36 437.00,174.65 437.75,174.93 438.50,175.20 439.25,175.47 440.00,175.73 440.75,175.99 441.50,176.23 442.25,176.48 443.00,176.72 443.75,176.95 444.50,177.18 445.25,177.41 446.00,177.63 446.75,177.84 447.50,178.06 448.25,178.26 449.00,178.47 449.75,178.67 450.50,178.87 451.25,179.06 452.00,179.25 452.75,179.44 453.50,179.62 454.25,179.80 455.00,179.98 455.75,180.15 456.50,180.32 457.25,180.49 458.00,180.66 458.75,180.82 459.50,180.98 460.25,181.14 461.00,181.29 461.75,181.45 462.50,181.60 463.25,181.75 464.00,181.89 464.75,182.04 465.50,182.18 466.25,182.32 467.00,182.46 467.75,182.59 468.50,182.72 469.25,182.86 470.00,182.99 470.75,183.11 471.50,183.24 472.25,183.36 473.00,183.49 473.75,183.61 474.50,183.73 475.25,183.84 476.00,183.96 476.75,184.07 477.50,184.19 478.25,184.30 479.00,184.41 479.75,184.52 480.50,184.62 481.25,184.73 482.00,184.83 482.75,184.93 483.50,185.04 484.25,185.14 485.00,185.23 485.75,185.33 486.50,185.43 487.25,185.52 488.00,185.62 488.75,185.71 489.50,185.80 490.25,185.89 491.00,185.98 491.75,186.07 492.50,186.16 493.25,186.24 494.00,186.33 494.75,186.41 495.50,186.50 496.25,186.58 497.00,186.66 497.75,186.74 498.50,186.82 499.25,186.90 500.00,186.97 500.75,187.05 501.50,187.13 502.25,187.20 503.00,187.28 503.75,187.35 504.50,187.42 505.25,187.49 506.00,187.56 506.75,187.63 507.50,187.70 508.25,187.77 509.00,187.84 509.75,187.90 510.50,187.97 511.25,188.04 512.00,188.10 512.75,188.16 513.50,188.23 514.25,188.29 515.00,188.35 515.75,188.41 516.50,188.47 517.25,188.53 518.00,188.59 518.75,188.65 519.50,188.71 520.25,188.77 521.00,188.82 521.75,188.88 522.50,188.94 523.25,188.99 524.00,189.05 524.75,189.10 525.50,189.15 526.25,189.21 527.00,189.26 527.75,189.31 528.50,189.36 529.25,189.41 530.00,189.46 530.75,189.51 531.50,189.56 532.25,189.61 533.00,189.66 533.75,189.71 534.50,189.75 535.25,189.80 536.00,189.85 536.75,189.89 537.50,189.94 538.25,189.98 539.00,190.03 539.75,190.07 540.50,190.12 541.25,190.16 542.00,190.20 542.75,190.25 543.50,190.29 544.25,190.33 545.00,190.37 545.75,190.41 546.50,190.45 547.25,190.49 548.00,190.53 548.75,190.57 549.50,190.61 550.25,190.65 551.00,190.69 551.75,190.73 552.50,190.76 553.25,190.80 554.00,190.84 554.75,190.87 555.50,190.91 556.25,190.95 557.00,190.98 557.75,191.02 558.50,191.05 559.25,191.09 560.00,191.12 560.75,191.15 561.50,191.19 562.25,191.22 563.00,191.25 563.75,191.29 564.50,191.32 565.25,191.35 566.00,191.38 566.75,191.41 567.50,191.45 568.25,191.48 569.00,191.51 569.75,191.54 570.50,191.57 571.25,191.60 572.00,191.63 572.75,191.66 573.50,191.68 574.25,191.71 575.00,191.74 575.75,191.77 576.50,191.80 577.25,191.83 578.00,191.85 578.75,191.88 579.50,191.91 580.25,191.93 581.00,191.96 581.75,191.99 582.50,192.01 583.25,192.04 584.00,192.06 584.75,192.09 585.50,192.11 586.25,192.14 587.00,192.16 587.75,192.19 588.50,192.21 589.25,192.24 590.00,192.26 590.75,192.28 591.50,192.31 592.25,192.33 593.00,192.35 593.75,192.38 594.50,192.40 595.25,192.42 596.00,192.44 596.75,192.47 597.50,192.49 598.25,192.51 599.00,192.53 599.75,192.55 600.50,192.57 601.25,192.59 602.00,192.61 602.75,192.63 603.50,192.66 604.25,192.68 605.00,192.70 605.75,192.71 606.50,192.73 607.25,192.75 608.00,192.77 608.75,192.79 609.50,192.81 610.25,192.83 611.00,192.85 611.75,192.87 612.50,192.88 613.25,192.90 614.00,192.92 614.75,192.94 615.50,192.96 616.25,192.97 617.00,192.99 617.75,193.01 618.50,193.03 619.25,193.04 620.00,193.06 620.75,193.08 621.50,193.09 622.25,193.11 623.00,193.12 623.75,193.14 624.50,193.16 625.25,193.17 626.00,193.19 626.75,193.20 627.50,193.22 628.25,193.23 629.00,193.25 629.75,193.26 630.50,193.28 631.25,193.29 632.00,193.31 632.75,193.32 633.50,193.33 634.25,193.35 635.00,193.36 635.75,193.38 636.50,193.39 637.25,193.40 638.00,193.42 638.75,193.43 639.50,193.44 640.25,193.46 641.00,193.47 641.75,193.48 642.50,193.50 643.25,193.51 644.00,193.52 644.75,193.53 645.50,193.54 646.25,193.56 647.00,193.57 647.75,193.58 648.50,193.59 649.25,193.60 650.00,193.62 650.75,193.63 651.50,193.64 652.25,193.65 653.00,193.66 653.75,193.67 654.50,193.68 655.25,193.69 656.00,193.70 656.75,193.72 657.50,193.73 658.25,193.74 659.00,193.75 659.75,193.76 660.50,193.77 661.25,193.78 662.00,193.79 662.75,193.80 663.50,193.81 664.25,193.82 665.00,193.83 665.75,193.84 666.50,193.84 667.25,193.85 668.00,193.86 668.75,193.87 669.50,193.88 670.25,193.89 671.00,193.90 671.75,193.91 672.50,193.92 673.25,193.92 674.00,193.93 674.75,193.94 675.50,193.95 676.25,193.96 677.00,193.97 677.75,193.97 678.50,193.98 679.25,193.99 680.00,194.00 680.75,194.01 681.50,194.01 682.25,194.02 683.00,194.03 683.75,194.04 684.40,194.04 684.40,282.30" fill="#C4B3D8" stroke="#3778E4" stroke-width="0.85" stroke-linejoin="round"/>
<polygon points="390.50,282.30 390.50,42.30 391.25,57.96 392.00,73.69 392.75,90.02 393.50,102.93 394.25,113.22 395.00,122.51 395.75,130.90 396.50,138.44 397.25,145.18 398.00,151.21 398.75,156.60 399.50,161.39 400.25,165.66 401.00,169.46 401.75,172.86 402.50,175.92 403.25,178.72 404.00,181.27 404.75,183.63 405.50,185.81 406.25,187.84 407.00,189.73 407.75,191.50 408.50,193.15 409.25,194.71 410.00,196.18 410.75,197.57 411.50,198.89 412.25,200.14 413.00,201.33 413.75,202.46 414.50,203.53 415.25,204.56 416.00,205.54 416.75,206.48 417.50,207.38 418.25,208.24 419.00,209.06 419.75,209.86 420.50,210.62 421.25,211.35 422.00,212.06 422.75,212.74 423.50,213.40 424.25,214.04 425.00,214.65 425.75,215.25 426.50,215.82 427.25,216.38 428.00,216.92 428.75,217.44 429.50,217.95 430.25,218.44 431.00,218.92 431.75,219.39 432.50,219.84 433.25,220.28 434.00,220.70 434.75,221.12 435.50,221.53 436.25,221.92 437.00,222.31 437.75,222.69 438.50,223.05 439.25,223.41 440.00,223.76 440.75,224.10 441.50,224.44 442.25,224.76 443.00,225.08 443.75,225.40 444.50,225.70 445.25,226.00 446.00,226.29 446.75,226.58 447.50,226.86 448.25,227.14 449.00,227.41 449.75,227.67 450.50,227.93 451.25,228.19 452.00,228.44 452.75,228.68 453.50,228.92 454.25,229.16 455.00,229.39 455.75,229.61 456.50,229.84 457.25,230.06 458.00,230.27 458.75,230.48 459.50,230.69 460.25,230.89 461.00,231.10 461.75,231.29 462.50,231.49 463.25,231.68 464.00,231.87 464.75,232.05 465.50,232.23 466.25,232.41 467.00,232.59 467.75,232.76 468.50,232.93 469.25,233.10 470.00,233.26 470.75,233.43 471.50,233.59 472.25,233.75 473.00,233.90 473.75,234.06 474.50,234.21 475.25,234.36 476.00,234.50 476.75,234.65 477.50,234.79 478.25,234.93 479.00,235.07 479.75,235.21 480.50,235.35 481.25,235.48 482.00,235.61 482.75,235.74 483.50,235.87 484.25,236.00 485.00,236.12 485.75,236.24 486.50,236.37 487.25,236.49 488.00,236.61 488.75,236.72 489.50,236.84 490.25,236.95 491.00,237.07 491.75,237.18 492.50,237.29 493.25,237.40 494.00,237.51 494.75,237.61 495.50,237.72 496.25,237.82 497.00,237.92 497.75,238.03 498.50,238.13 499.25,238.23 500.00,238.32 500.75,238.42 501.50,238.52 502.25,238.61 503.00,238.71 503.75,238.80 504.50,238.89 505.25,238.98 506.00,239.07 506.75,239.16 507.50,239.25 508.25,239.34 509.00,239.42 509.75,239.51 510.50,239.59 511.25,239.68 512.00,239.76 512.75,239.84 513.50,239.92 514.25,240.00 515.00,240.08 515.75,240.16 516.50,240.24 517.25,240.32 518.00,240.39 518.75,240.47 519.50,240.55 520.25,240.62 521.00,240.69 521.75,240.77 522.50,240.84 523.25,240.91 524.00,240.98 524.75,241.05 525.50,241.12 526.25,241.19 527.00,241.26 527.75,241.33 528.50,241.39 529.25,241.46 530.00,241.53 530.75,241.59 531.50,241.66 532.25,241.72 533.00,241.78 533.75,241.85 534.50,241.91 535.25,241.97 536.00,242.03 536.75,242.09 537.50,242.15 538.25,242.21 539.00,242.27 539.75,242.33 540.50,242.39 541.25,242.45 542.00,242.51 542.75,242.56 543.50,242.62 544.25,242.68 545.00,242.73 545.75,242.79 546.50,242.84 547.25,242.90 548.00,242.95 548.75,243.01 549.50,243.06 550.25,243.11 551.00,243.16 551.75,243.22 552.50,243.27 553.25,243.32 554.00,243.37 554.75,243.42 555.50,243.47 556.25,243.52 557.00,243.57 557.75,243.62 558.50,243.67 559.25,243.71 560.00,243.76 560.75,243.81 561.50,243.86 562.25,243.90 563.00,243.95 563.75,244.00 564.50,244.04 565.25,244.09 566.00,244.13 566.75,244.18 567.50,244.22 568.25,244.27 569.00,244.31 569.75,244.35 570.50,244.40 571.25,244.44 572.00,244.48 572.75,244.53 573.50,244.57 574.25,244.61 575.00,244.65 575.75,244.69 576.50,244.73 577.25,244.78 578.00,244.82 578.75,244.86 579.50,244.90 580.25,244.94 581.00,244.98 581.75,245.02 582.50,245.05 583.25,245.09 584.00,245.13 584.75,245.17 585.50,245.21 586.25,245.25 587.00,245.28 587.75,245.32 588.50,245.36 589.25,245.39 590.00,245.43 590.75,245.47 591.50,245.50 592.25,245.54 593.00,245.58 593.75,245.61 594.50,245.65 595.25,245.68 596.00,245.72 596.75,245.75 597.50,245.79 598.25,245.82 599.00,245.86 599.75,245.89 600.50,245.92 601.25,245.96 602.00,245.99 602.75,246.02 603.50,246.06 604.25,246.09 605.00,246.12 605.75,246.15 606.50,246.19 607.25,246.22 608.00,246.25 608.75,246.28 609.50,246.31 610.25,246.35 611.00,246.38 611.75,246.41 612.50,246.44 613.25,246.47 614.00,246.50 614.75,246.53 615.50,246.56 616.25,246.59 617.00,246.62 617.75,246.65 618.50,246.68 619.25,246.71 620.00,246.74 620.75,246.77 621.50,246.80 622.25,246.83 623.00,246.85 623.75,246.88 624.50,246.91 625.25,246.94 626.00,246.97 626.75,247.00 627.50,247.02 628.25,247.05 629.00,247.08 629.75,247.11 630.50,247.13 631.25,247.16 632.00,247.19 632.75,247.22 633.50,247.24 634.25,247.27 635.00,247.30 635.75,247.32 636.50,247.35 637.25,247.37 638.00,247.40 638.75,247.43 639.50,247.45 640.25,247.48 641.00,247.50 641.75,247.53 642.50,247.55 643.25,247.58 644.00,247.60 644.75,247.63 645.50,247.65 646.25,247.68 647.00,247.70 647.75,247.73 648.50,247.75 649.25,247.78 650.00,247.80 650.75,247.82 651.50,247.85 652.25,247.87 653.00,247.90 653.75,247.92 654.50,247.94 655.25,247.97 656.00,247.99 656.75,248.01 657.50,248.04 658.25,248.06 659.00,248.08 659.75,248.11 660.50,248.13 661.25,248.15 662.00,248.17 662.75,248.20 663.50,248.22 664.25,248.24 665.00,248.26 665.75,248.28 666.50,248.31 667.25,248.33 668.00,248.35 668.75,248.37 669.50,248.39 670.25,248.42 671.00,248.44 671.75,248.46 672.50,248.48 673.25,248.50 674.00,248.52 674.75,248.54 675.50,248.56 676.25,248.58 677.00,248.61 677.75,248.63 678.50,248.65 679.25,248.67 680.00,248.69 680.75,248.71 681.50,248.73 682.25,248.75 683.00,248.77 683.75,248.79 684.40,248.81 684.40,282.30" fill="#9ED89F" stroke="#E8483E" stroke-width="0.85" stroke-linejoin="round"/>
<polygon points="390.50,282.30 390.50,144.70 391.25,151.71 392.00,158.50 392.75,165.48 393.50,172.54 394.25,179.19 395.00,185.17 395.75,190.41 396.50,194.94 397.25,198.88 398.00,202.34 398.75,205.41 399.50,208.16 400.25,210.64 401.00,212.88 401.75,214.91 402.50,216.78 403.25,218.49 404.00,220.06 404.75,221.51 405.50,222.86 406.25,224.11 407.00,225.28 407.75,226.37 408.50,227.39 409.25,228.34 410.00,229.24 410.75,230.08 411.50,230.88 412.25,231.63 413.00,232.33 413.75,233.00 414.50,233.64 415.25,234.24 416.00,234.81 416.75,235.35 417.50,235.87 418.25,236.36 419.00,236.84 419.75,237.29 420.50,237.72 421.25,238.13 422.00,238.53 422.75,238.91 423.50,239.28 424.25,239.63 425.00,239.97 425.75,240.30 426.50,240.62 427.25,240.92 428.00,241.22 428.75,241.50 429.50,241.78 430.25,242.05 431.00,242.31 431.75,242.56 432.50,242.80 433.25,243.04 434.00,243.27 434.75,243.49 435.50,243.71 436.25,243.92 437.00,244.13 437.75,244.33 438.50,244.53 439.25,244.72 440.00,244.91 440.75,245.09 441.50,245.27 442.25,245.44 443.00,245.61 443.75,245.78 444.50,245.94 445.25,246.10 446.00,246.26 446.75,246.41 447.50,246.57 448.25,246.71 449.00,246.86 449.75,247.00 450.50,247.14 451.25,247.28 452.00,247.41 452.75,247.55 453.50,247.68 454.25,247.81 455.00,247.93 455.75,248.06 456.50,248.18 457.25,248.30 458.00,248.42 458.75,248.54 459.50,248.66 460.25,248.77 461.00,248.88 461.75,248.99 462.50,249.10 463.25,249.21 464.00,249.32 464.75,249.43 465.50,249.53 466.25,249.63 467.00,249.74 467.75,249.84 468.50,249.94 469.25,250.03 470.00,250.13 470.75,250.23 471.50,250.32 472.25,250.41 473.00,250.51 473.75,250.60 474.50,250.69 475.25,250.78 476.00,250.87 476.75,250.95 477.50,251.04 478.25,251.12 479.00,251.21 479.75,251.29 480.50,251.37 481.25,251.45 482.00,251.54 482.75,251.61 483.50,251.69 484.25,251.77 485.00,251.85 485.75,251.92 486.50,252.00 487.25,252.07 488.00,252.15 488.75,252.22 489.50,252.29 490.25,252.36 491.00,252.43 491.75,252.50 492.50,252.57 493.25,252.64 494.00,252.71 494.75,252.78 495.50,252.84 496.25,252.91 497.00,252.97 497.75,253.04 498.50,253.10 499.25,253.16 500.00,253.22 500.75,253.29 501.50,253.35 502.25,253.41 503.00,253.47 503.75,253.53 504.50,253.58 505.25,253.64 506.00,253.70 506.75,253.76 507.50,253.81 508.25,253.87 509.00,253.92 509.75,253.98 510.50,254.03 511.25,254.09 512.00,254.14 512.75,254.19 513.50,254.24 514.25,254.30 515.00,254.35 515.75,254.40 516.50,254.45 517.25,254.50 518.00,254.55 518.75,254.60 519.50,254.64 520.25,254.69 521.00,254.74 521.75,254.79 522.50,254.83 523.25,254.88 524.00,254.92 524.75,254.97 525.50,255.01 526.25,255.06 527.00,255.10 527.75,255.15 528.50,255.19 529.25,255.23 530.00,255.27 530.75,255.32 531.50,255.36 532.25,255.40 533.00,255.44 533.75,255.48 534.50,255.52 535.25,255.56 536.00,255.60 536.75,255.64 537.50,255.68 538.25,255.72 539.00,255.75 539.75,255.79 540.50,255.83 541.25,255.87 542.00,255.90 542.75,255.94 543.50,255.97 544.25,256.01 545.00,256.05 545.75,256.08 546.50,256.12 547.25,256.15 548.00,256.18 548.75,256.22 549.50,256.25 550.25,256.28 551.00,256.32 551.75,256.35 552.50,256.38 553.25,256.42 554.00,256.45 554.75,256.48 555.50,256.51 556.25,256.54 557.00,256.57 557.75,256.60 558.50,256.63 559.25,256.66 560.00,256.69 560.75,256.72 561.50,256.75 562.25,256.78 563.00,256.81 563.75,256.84 564.50,256.87 565.25,256.89 566.00,256.92 566.75,256.95 567.50,256.98 568.25,257.00 569.00,257.03 569.75,257.06 570.50,257.08 571.25,257.11 572.00,257.14 572.75,257.16 573.50,257.19 574.25,257.21 575.00,257.24 575.75,257.26 576.50,257.29 577.25,257.31 578.00,257.34 578.75,257.36 579.50,257.38 580.25,257.41 581.00,257.43 581.75,257.45 582.50,257.48 583.25,257.50 584.00,257.52 584.75,257.54 585.50,257.57 586.25,257.59 587.00,257.61 587.75,257.63 588.50,257.65 589.25,257.67 590.00,257.70 590.75,257.72 591.50,257.74 592.25,257.76 593.00,257.78 593.75,257.80 594.50,257.82 595.25,257.84 596.00,257.86 596.75,257.88 597.50,257.90 598.25,257.92 599.00,257.94 599.75,257.96 600.50,257.97 601.25,257.99 602.00,258.01 602.75,258.03 603.50,258.05 604.25,258.07 605.00,258.08 605.75,258.10 606.50,258.12 607.25,258.14 608.00,258.15 608.75,258.17 609.50,258.19 610.25,258.20 611.00,258.22 611.75,258.24 612.50,258.25 613.25,258.27 614.00,258.29 614.75,258.30 615.50,258.32 616.25,258.33 617.00,258.35 617.75,258.36 618.50,258.38 619.25,258.39 620.00,258.41 620.75,258.42 621.50,258.44 622.25,258.45 623.00,258.47 623.75,258.48 624.50,258.50 625.25,258.51 626.00,258.53 626.75,258.54 627.50,258.55 628.25,258.57 629.00,258.58 629.75,258.59 630.50,258.61 631.25,258.62 632.00,258.63 632.75,258.65 633.50,258.66 634.25,258.67 635.00,258.68 635.75,258.70 636.50,258.71 637.25,258.72 638.00,258.73 638.75,258.74 639.50,258.76 640.25,258.77 641.00,258.78 641.75,258.79 642.50,258.80 643.25,258.81 644.00,258.83 644.75,258.84 645.50,258.85 646.25,258.86 647.00,258.87 647.75,258.88 648.50,258.89 649.25,258.90 650.00,258.91 650.75,258.92 651.50,258.93 652.25,258.94 653.00,258.95 653.75,258.96 654.50,258.97 655.25,258.98 656.00,258.99 656.75,259.00 657.50,259.01 658.25,259.02 659.00,259.03 659.75,259.04 660.50,259.05 661.25,259.06 662.00,259.07 662.75,259.08 663.50,259.08 664.25,259.09 665.00,259.10 665.75,259.11 666.50,259.12 667.25,259.13 668.00,259.13 668.75,259.14 669.50,259.15 670.25,259.16 671.00,259.17 671.75,259.17 672.50,259.18 673.25,259.19 674.00,259.20 674.75,259.21 675.50,259.21 676.25,259.22 677.00,259.23 677.75,259.23 678.50,259.24 679.25,259.25 680.00,259.26 680.75,259.26 681.50,259.27 682.25,259.28 683.00,259.28 683.75,259.29 684.40,259.29 684.40,282.30" fill="#FCC999" stroke="#505050" stroke-width="0.85" stroke-linejoin="round"/>
<path d="M390.50,31.65 V282.30 H684.40" fill="none" stroke="#262626" stroke-width="1.05"/>
<line x1="390.50" y1="282.30" x2="390.50" y2="286.40" stroke="#262626" stroke-width="1.05"/>
<text x="390.50" y="301.90" font-family="Liberation Serif, serif" font-size="17.4" letter-spacing="-0.4" text-anchor="middle">0</text>
<line x1="521.70" y1="282.30" x2="521.70" y2="286.40" stroke="#262626" stroke-width="1.05"/>
<text x="521.70" y="301.90" font-family="Liberation Serif, serif" font-size="17.4" letter-spacing="-0.4" text-anchor="middle">25</text>
<line x1="652.90" y1="282.30" x2="652.90" y2="286.40" stroke="#262626" stroke-width="1.05"/>
<text x="652.90" y="301.90" font-family="Liberation Serif, serif" font-size="17.4" letter-spacing="-0.4" text-anchor="middle">50</text>
<line x1="456.10" y1="282.30" x2="456.10" y2="284.30" stroke="#262626" stroke-width="1.05"/>
<line x1="587.30" y1="282.30" x2="587.30" y2="284.30" stroke="#262626" stroke-width="1.05"/>
<line x1="386.80" y1="282.30" x2="390.50" y2="282.30" stroke="#262626" stroke-width="1.05"/>
<text x="383.90" y="288.00" font-family="Liberation Serif, serif" font-size="17.4" letter-spacing="-0.75" text-anchor="end">0</text>
<line x1="386.80" y1="232.17" x2="390.50" y2="232.17" stroke="#262626" stroke-width="1.05"/>
<text x="383.90" y="237.87" font-family="Liberation Serif, serif" font-size="17.4" letter-spacing="-0.75" text-anchor="end">20</text>
<line x1="386.80" y1="182.04" x2="390.50" y2="182.04" stroke="#262626" stroke-width="1.05"/>
<text x="383.90" y="187.74" font-family="Liberation Serif, serif" font-size="17.4" letter-spacing="-0.75" text-anchor="end">40</text>
<line x1="386.80" y1="131.91" x2="390.50" y2="131.91" stroke="#262626" stroke-width="1.05"/>
<text x="383.90" y="137.61" font-family="Liberation Serif, serif" font-size="17.4" letter-spacing="-0.75" text-anchor="end">60</text>
<line x1="386.80" y1="81.78" x2="390.50" y2="81.78" stroke="#262626" stroke-width="1.05"/>
<text x="383.90" y="87.48" font-family="Liberation Serif, serif" font-size="17.4" letter-spacing="-0.75" text-anchor="end">80</text>
<line x1="386.80" y1="31.65" x2="390.50" y2="31.65" stroke="#262626" stroke-width="1.05"/>
<text x="383.90" y="37.35" font-family="Liberation Serif, serif" font-size="17.4" letter-spacing="-0.75" text-anchor="end">100</text>
<line x1="388.50" y1="257.24" x2="390.50" y2="257.24" stroke="#262626" stroke-width="1.05"/>
<line x1="388.50" y1="207.11" x2="390.50" y2="207.11" stroke="#262626" stroke-width="1.05"/>
<line x1="388.50" y1="156.98" x2="390.50" y2="156.98" stroke="#262626" stroke-width="1.05"/>
<line x1="388.50" y1="106.85" x2="390.50" y2="106.85" stroke="#262626" stroke-width="1.05"/>
<line x1="388.50" y1="56.72" x2="390.50" y2="56.72" stroke="#262626" stroke-width="1.05"/>
<rect x="548.30" y="96.40" width="103.4" height="112" fill="#fff" stroke="#333" stroke-width="0.9"/>
<rect x="551.20" y="99.35" width="37.5" height="18.05" fill="#FCC999" stroke="#505050" stroke-width="0.8"/>
<text x="593.80" y="114.10" font-family="Liberation Serif, serif" font-size="16.6">Porosity</text>
<rect x="551.20" y="120.40" width="37.5" height="18.60" fill="#9ED89F" stroke="#E8483E" stroke-width="0.8"/>
<text x="593.80" y="136.10" font-family="Liberation Serif, serif" font-size="16.6">C<tspan font-size="12" dy="4">3</tspan><tspan dy="-4">S</tspan></text>
<rect x="551.20" y="144.90" width="37.5" height="18.70" fill="#C4B3D8" stroke="#3778E4" stroke-width="0.8"/>
<text x="593.80" y="160.30" font-family="Liberation Serif, serif" font-size="16.6">CH</text>
<rect x="551.20" y="166.10" width="37.5" height="18.50" fill="#FFFDA3" stroke="#3DB856" stroke-width="0.8"/>
<text x="593.80" y="181.60" font-family="Liberation Serif, serif" font-size="16.6">C-S-H</text>
<rect x="551.20" y="187.10" width="37.5" height="18.30" fill="#9CBBF3" stroke="#C796EC" stroke-width="0.8"/>
<text x="593.80" y="201.90" font-family="Liberation Serif, serif" font-size="16.6">Empty</text>
<text x="406.2" y="81.2" font-family="Liberation Serif, serif" font-size="17">PP = 10%, w/s = 0.4</text>
<text x="406.2" y="111.8" font-family="Liberation Serif, serif" font-size="17">Case I</text>
<text x="356.7" y="11.0" font-family="Liberation Serif, serif" font-size="16" font-weight="bold">(b)</text>
<text x="537.6" y="327.8" font-family="Liberation Serif, serif" font-size="17" text-anchor="middle">Hydration age (day)</text>
</g>
<g id="panelC">
<polyline points="60.50,462.67 61.25,472.96 62.00,480.60 62.75,486.46 63.50,491.12 64.25,495.09 65.00,498.71 65.75,502.21 66.50,505.61 67.25,508.85 68.00,511.91 68.75,514.76 69.50,517.40 70.25,519.85 71.00,522.13 71.75,524.26 72.50,526.25 73.25,528.12 74.00,529.87 74.75,531.52 75.50,533.07 76.25,534.53 77.00,535.92 77.75,537.23 78.50,538.48 79.25,539.66 80.00,540.78 80.75,541.85 81.50,542.87 82.25,543.84 83.00,544.77 83.75,545.66 84.50,546.50 85.25,547.31 86.00,548.09 86.75,548.83 87.50,549.55 88.25,550.23 89.00,550.89 89.75,551.53 90.50,552.14 91.25,552.72 92.00,553.29 92.75,553.83 93.50,554.36 94.25,554.86 95.00,555.35 95.75,555.82 96.50,556.28 97.25,556.72 98.00,557.15 98.75,557.56 99.50,557.96 100.25,558.34 101.00,558.72 101.75,559.08 102.50,559.43 103.25,559.77 104.00,560.10 104.75,560.42 105.50,560.74 106.25,561.04 107.00,561.33 107.75,561.62 108.50,561.89 109.25,562.16 110.00,562.42 110.75,562.68 111.50,562.93 112.25,563.17 113.00,563.40 113.75,563.63 114.50,563.85 115.25,564.07 116.00,564.28 116.75,564.49 117.50,564.69 118.25,564.88 119.00,565.07 119.75,565.26 120.50,565.44 121.25,565.62 122.00,565.79 122.75,565.96 123.50,566.12 124.25,566.28 125.00,566.44 125.75,566.59 126.50,566.74 127.25,566.89 128.00,567.03 128.75,567.17 129.50,567.31 130.25,567.44 131.00,567.57 131.75,567.70 132.50,567.83 133.25,567.95 134.00,568.07 134.75,568.19 135.50,568.31 136.25,568.42 137.00,568.53 137.75,568.64 138.50,568.74 139.25,568.85 140.00,568.95 140.75,569.05 141.50,569.15 142.25,569.25 143.00,569.34 143.75,569.43 144.50,569.53 145.25,569.61 146.00,569.70 146.75,569.79 147.50,569.87 148.25,569.96 149.00,570.04 149.75,570.12 150.50,570.20 151.25,570.28 152.00,570.35 152.75,570.43 153.50,570.50 154.25,570.57 155.00,570.64 155.75,570.71 156.50,570.78 157.25,570.85 158.00,570.92 158.75,570.98 159.50,571.05 160.25,571.11 161.00,571.17 161.75,571.24 162.50,571.30 163.25,571.36 164.00,571.41 164.75,571.47 165.50,571.53 166.25,571.59 167.00,571.64 167.75,571.70 168.50,571.75 169.25,571.80 170.00,571.86 170.75,571.91 171.50,571.96 172.25,572.01 173.00,572.06 173.75,572.11 174.50,572.16 175.25,572.20 176.00,572.25 176.75,572.30 177.50,572.34 178.25,572.39 179.00,572.43 179.75,572.48 180.50,572.52 181.25,572.56 182.00,572.61 182.75,572.65 183.50,572.69 184.25,572.73 185.00,572.77 185.75,572.81 186.50,572.85 187.25,572.89 188.00,572.93 188.75,572.97 189.50,573.01 190.25,573.04 191.00,573.08 191.75,573.12 192.50,573.15 193.25,573.19 194.00,573.22 194.75,573.26 195.50,573.30 196.25,573.33 197.00,573.36 197.75,573.40 198.50,573.43 199.25,573.46 200.00,573.50 200.75,573.53 201.50,573.56 202.25,573.59 203.00,573.63 203.75,573.66 204.50,573.69 205.25,573.72 206.00,573.75 206.75,573.78 207.50,573.81 208.25,573.84 209.00,573.87 209.75,573.90 210.50,573.93 211.25,573.96 212.00,573.99 212.75,574.01 213.50,574.04 214.25,574.07 215.00,574.10 215.75,574.13 216.50,574.15 217.25,574.18 218.00,574.21 218.75,574.23 219.50,574.26 220.25,574.29 221.00,574.31 221.75,574.34 222.50,574.37 223.25,574.39 224.00,574.42 224.75,574.44 225.50,574.47 226.25,574.49 227.00,574.52 227.75,574.54 228.50,574.57 229.25,574.59 230.00,574.62 230.75,574.64 231.50,574.66 232.25,574.69 233.00,574.71 233.75,574.74 234.50,574.76 235.25,574.78 236.00,574.81 236.75,574.83 237.50,574.85 238.25,574.88 239.00,574.90 239.75,574.92 240.50,574.94 241.25,574.97 242.00,574.99 242.75,575.01 243.50,575.03 244.25,575.06 245.00,575.08 245.75,575.10 246.50,575.12 247.25,575.14 248.00,575.17 248.75,575.19 249.50,575.21 250.25,575.23 251.00,575.25 251.75,575.27 252.50,575.29 253.25,575.32 254.00,575.34 254.75,575.36 255.50,575.38 256.25,575.40 257.00,575.42 257.75,575.44 258.50,575.46 259.25,575.48 260.00,575.50 260.75,575.52 261.50,575.54 262.25,575.56 263.00,575.58 263.75,575.60 264.50,575.62 265.25,575.65 266.00,575.67 266.75,575.69 267.50,575.71 268.25,575.73 269.00,575.74 269.75,575.76 270.50,575.78 271.25,575.80 272.00,575.82 272.75,575.84 273.50,575.86 274.25,575.88 275.00,575.90 275.75,575.92 276.50,575.94 277.25,575.96 278.00,575.98 278.75,576.00 279.50,576.02 280.25,576.04 281.00,576.06 281.75,576.08 282.50,576.10 283.25,576.11 284.00,576.13 284.75,576.15 285.50,576.17 286.25,576.19 287.00,576.21 287.75,576.23 288.50,576.25 289.25,576.27 290.00,576.29 290.75,576.30 291.50,576.32 292.25,576.34 293.00,576.36 293.75,576.38 294.50,576.40 295.25,576.42 296.00,576.44 296.75,576.45 297.50,576.47 298.25,576.49 299.00,576.51 299.75,576.53 300.50,576.55 301.25,576.57 302.00,576.58 302.75,576.60 303.50,576.62 304.25,576.64 305.00,576.66 305.75,576.68 306.50,576.69 307.25,576.71 308.00,576.73 308.75,576.75 309.50,576.77 310.25,576.79 311.00,576.81 311.75,576.82 312.50,576.84 313.25,576.86 314.00,576.88 314.75,576.90 315.50,576.92 316.25,576.93 317.00,576.95 317.75,576.97 318.50,576.99 319.25,577.01 320.00,577.03 320.75,577.04 321.50,577.06 322.25,577.08 323.00,577.10 323.75,577.12 324.50,577.13 325.25,577.15 326.00,577.17 326.75,577.19 327.50,577.21 328.25,577.23 329.00,577.24 329.75,577.26 330.50,577.28 331.25,577.30 332.00,577.32 332.75,577.33 333.50,577.35 334.25,577.37 335.00,577.39 335.75,577.41 336.50,577.43 337.25,577.44 338.00,577.46 338.75,577.48 339.50,577.50 340.25,577.52 341.00,577.53 341.75,577.55 342.50,577.57 343.25,577.59 344.00,577.61 344.75,577.63 345.50,577.64 346.25,577.66 347.00,577.68 347.75,577.70 348.50,577.72" fill="none" stroke="#444444" stroke-width="1.15" stroke-linejoin="round"/>
<polyline points="54.50,383.50 55.25,392.71 56.00,401.33 56.75,410.20 57.50,419.45 58.25,429.25 59.00,439.88 59.75,451.41 60.50,462.67 61.25,471.15 62.00,477.37 62.75,482.49 63.50,486.89 64.25,490.73 65.00,494.10 65.75,497.11 66.50,499.81 67.25,502.26 68.00,504.50 68.75,506.57 69.50,508.49 70.25,510.28 71.00,511.95 71.75,513.51 72.50,514.97 73.25,516.35 74.00,517.64 74.75,518.86 75.50,520.02 76.25,521.11 77.00,522.15 77.75,523.14 78.50,524.08 79.25,524.97 80.00,525.83 80.75,526.64 81.50,527.43 82.25,528.17 83.00,528.89 83.75,529.58 84.50,530.24 85.25,530.87 86.00,531.48 86.75,532.07 87.50,532.64 88.25,533.19 89.00,533.72 89.75,534.23 90.50,534.72 91.25,535.20 92.00,535.66 92.75,536.11 93.50,536.54 94.25,536.97 95.00,537.37 95.75,537.77 96.50,538.16 97.25,538.53 98.00,538.90 98.75,539.25 99.50,539.60 100.25,539.94 101.00,540.27 101.75,540.59 102.50,540.90 103.25,541.20 104.00,541.50 104.75,541.79 105.50,542.07 106.25,542.35 107.00,542.62 107.75,542.89 108.50,543.15 109.25,543.40 110.00,543.65 110.75,543.89 111.50,544.13 112.25,544.37 113.00,544.60 113.75,544.82 114.50,545.04 115.25,545.26 116.00,545.47 116.75,545.68 117.50,545.88 118.25,546.09 119.00,546.28 119.75,546.48 120.50,546.67 121.25,546.86 122.00,547.04 122.75,547.22 123.50,547.40 124.25,547.58 125.00,547.75 125.75,547.92 126.50,548.09 127.25,548.26 128.00,548.42 128.75,548.58 129.50,548.74 130.25,548.89 131.00,549.05 131.75,549.20 132.50,549.35 133.25,549.49 134.00,549.64 134.75,549.78 135.50,549.92 136.25,550.06 137.00,550.20 137.75,550.34 138.50,550.47 139.25,550.60 140.00,550.73 140.75,550.86 141.50,550.99 142.25,551.11 143.00,551.23 143.75,551.36 144.50,551.48 145.25,551.59 146.00,551.71 146.75,551.83 147.50,551.94 148.25,552.05 149.00,552.17 149.75,552.28 150.50,552.38 151.25,552.49 152.00,552.60 152.75,552.70 153.50,552.81 154.25,552.91 155.00,553.01 155.75,553.11 156.50,553.21 157.25,553.31 158.00,553.40 158.75,553.50 159.50,553.59 160.25,553.69 161.00,553.78 161.75,553.87 162.50,553.96 163.25,554.05 164.00,554.14 164.75,554.22 165.50,554.31 166.25,554.40 167.00,554.48 167.75,554.56 168.50,554.65 169.25,554.73 170.00,554.81 170.75,554.89 171.50,554.97 172.25,555.05 173.00,555.12 173.75,555.20 174.50,555.28 175.25,555.35 176.00,555.42 176.75,555.50 177.50,555.57 178.25,555.64 179.00,555.71 179.75,555.78 180.50,555.85 181.25,555.92 182.00,555.99 182.75,556.06 183.50,556.13 184.25,556.19 185.00,556.26 185.75,556.32 186.50,556.39 187.25,556.45 188.00,556.51 188.75,556.58 189.50,556.64 190.25,556.70 191.00,556.76 191.75,556.82 192.50,556.88 193.25,556.94 194.00,557.00 194.75,557.06 195.50,557.11 196.25,557.17 197.00,557.23 197.75,557.28 198.50,557.34 199.25,557.39 200.00,557.45 200.75,557.50 201.50,557.55 202.25,557.61 203.00,557.66 203.75,557.71 204.50,557.76 205.25,557.81 206.00,557.86 206.75,557.91 207.50,557.96 208.25,558.01 209.00,558.06 209.75,558.11 210.50,558.16 211.25,558.20 212.00,558.25 212.75,558.30 213.50,558.34 214.25,558.39 215.00,558.44 215.75,558.48 216.50,558.53 217.25,558.57 218.00,558.61 218.75,558.66 219.50,558.70 220.25,558.74 221.00,558.78 221.75,558.83 222.50,558.87 223.25,558.91 224.00,558.95 224.75,558.99 225.50,559.03 226.25,559.07 227.00,559.11 227.75,559.15 228.50,559.19 229.25,559.23 230.00,559.26 230.75,559.30 231.50,559.34 232.25,559.38 233.00,559.41 233.75,559.45 234.50,559.49 235.25,559.52 236.00,559.56 236.75,559.59 237.50,559.63 238.25,559.66 239.00,559.70 239.75,559.73 240.50,559.77 241.25,559.80 242.00,559.83 242.75,559.87 243.50,559.90 244.25,559.93 245.00,559.97 245.75,560.00 246.50,560.03 247.25,560.06 248.00,560.09 248.75,560.12 249.50,560.15 250.25,560.19 251.00,560.22 251.75,560.25 252.50,560.28 253.25,560.31 254.00,560.34 254.75,560.36 255.50,560.39 256.25,560.42 257.00,560.45 257.75,560.48 258.50,560.51 259.25,560.53 260.00,560.56 260.75,560.59 261.50,560.62 262.25,560.64 263.00,560.67 263.75,560.70 264.50,560.72 265.25,560.75 266.00,560.78 266.75,560.80 267.50,560.83 268.25,560.85 269.00,560.88 269.75,560.90 270.50,560.93 271.25,560.95 272.00,560.98 272.75,561.00 273.50,561.02 274.25,561.05 275.00,561.07 275.75,561.10 276.50,561.12 277.25,561.14 278.00,561.16 278.75,561.19 279.50,561.21 280.25,561.23 281.00,561.25 281.75,561.28 282.50,561.30 283.25,561.32 284.00,561.34 284.75,561.36 285.50,561.38 286.25,561.41 287.00,561.43 287.75,561.45 288.50,561.47 289.25,561.49 290.00,561.51 290.75,561.53 291.50,561.55 292.25,561.57 293.00,561.59 293.75,561.61 294.50,561.63 295.25,561.65 296.00,561.67 296.75,561.68 297.50,561.70 298.25,561.72 299.00,561.74 299.75,561.76 300.50,561.78 301.25,561.80 302.00,561.81 302.75,561.83 303.50,561.85 304.25,561.87 305.00,561.88 305.75,561.90 306.50,561.92 307.25,561.94 308.00,561.95 308.75,561.97 309.50,561.99 310.25,562.00 311.00,562.02 311.75,562.03 312.50,562.05 313.25,562.07 314.00,562.08 314.75,562.10 315.50,562.11 316.25,562.13 317.00,562.15 317.75,562.16 318.50,562.18 319.25,562.19 320.00,562.21 320.75,562.22 321.50,562.24 322.25,562.25 323.00,562.26 323.75,562.28 324.50,562.29 325.25,562.31 326.00,562.32 326.75,562.34 327.50,562.35 328.25,562.36 329.00,562.38 329.75,562.39 330.50,562.40 331.25,562.42 332.00,562.43 332.75,562.44 333.50,562.46 334.25,562.47 335.00,562.48 335.75,562.49 336.50,562.51 337.25,562.52 338.00,562.53 338.75,562.54 339.50,562.56 340.25,562.57 341.00,562.58 341.75,562.59 342.50,562.61 343.25,562.62 344.00,562.63 344.75,562.64 345.50,562.65 346.25,562.66 347.00,562.67 347.75,562.69 348.50,562.70" fill="none" stroke="#F23838" stroke-width="1.15" stroke-linejoin="round"/>
<path d="M54.50,361.25 V611.45 H348.50" fill="none" stroke="#262626" stroke-width="1.05"/>
<path d="M54.50,361.25 H348.50 V611.45" fill="none" stroke="#262626" stroke-width="1.05"/>
<line x1="54.50" y1="611.45" x2="54.50" y2="615.55" stroke="#262626" stroke-width="1.05"/>
<text x="54.50" y="630.60" font-family="Liberation Serif, serif" font-size="17.4" letter-spacing="-0.4" text-anchor="middle">0</text>
<line x1="185.70" y1="611.45" x2="185.70" y2="615.55" stroke="#262626" stroke-width="1.05"/>
<text x="185.70" y="630.60" font-family="Liberation Serif, serif" font-size="17.4" letter-spacing="-0.4" text-anchor="middle">25</text>
<line x1="316.90" y1="611.45" x2="316.90" y2="615.55" stroke="#262626" stroke-width="1.05"/>
<text x="316.90" y="630.60" font-family="Liberation Serif, serif" font-size="17.4" letter-spacing="-0.4" text-anchor="middle">50</text>
<line x1="120.10" y1="611.45" x2="120.10" y2="613.45" stroke="#262626" stroke-width="1.05"/>
<line x1="251.30" y1="611.45" x2="251.30" y2="613.45" stroke="#262626" stroke-width="1.05"/>
<line x1="50.80" y1="611.45" x2="54.50" y2="611.45" stroke="#262626" stroke-width="1.05"/>
<text x="47.90" y="617.15" font-family="Liberation Serif, serif" font-size="17.4" letter-spacing="-0.75" text-anchor="end">1</text>
<line x1="50.80" y1="565.90" x2="54.50" y2="565.90" stroke="#262626" stroke-width="1.05"/>
<text x="47.90" y="571.60" font-family="Liberation Serif, serif" font-size="17.4" letter-spacing="-0.75" text-anchor="end">2</text>
<line x1="50.80" y1="520.35" x2="54.50" y2="520.35" stroke="#262626" stroke-width="1.05"/>
<text x="47.90" y="526.05" font-family="Liberation Serif, serif" font-size="17.4" letter-spacing="-0.75" text-anchor="end">3</text>
<line x1="50.80" y1="474.80" x2="54.50" y2="474.80" stroke="#262626" stroke-width="1.05"/>
<text x="47.90" y="480.50" font-family="Liberation Serif, serif" font-size="17.4" letter-spacing="-0.75" text-anchor="end">4</text>
<line x1="50.80" y1="429.25" x2="54.50" y2="429.25" stroke="#262626" stroke-width="1.05"/>
<text x="47.90" y="434.95" font-family="Liberation Serif, serif" font-size="17.4" letter-spacing="-0.75" text-anchor="end">5</text>
<line x1="50.80" y1="383.70" x2="54.50" y2="383.70" stroke="#262626" stroke-width="1.05"/>
<text x="47.90" y="389.40" font-family="Liberation Serif, serif" font-size="17.4" letter-spacing="-0.75" text-anchor="end">6</text>
<line x1="52.50" y1="588.68" x2="54.50" y2="588.68" stroke="#262626" stroke-width="1.05"/>
<line x1="52.50" y1="543.12" x2="54.50" y2="543.12" stroke="#262626" stroke-width="1.05"/>
<line x1="52.50" y1="497.58" x2="54.50" y2="497.58" stroke="#262626" stroke-width="1.05"/>
<line x1="52.50" y1="452.03" x2="54.50" y2="452.03" stroke="#262626" stroke-width="1.05"/>
<line x1="52.50" y1="406.48" x2="54.50" y2="406.48" stroke="#262626" stroke-width="1.05"/>
<line x1="52.50" y1="361.25" x2="54.50" y2="361.25" stroke="#262626" stroke-width="1.05"/>
<line x1="126.1" y1="382.5" x2="163.8" y2="382.5" stroke="#444444" stroke-width="1.0"/>
<line x1="126.1" y1="403.6" x2="163.8" y2="403.6" stroke="#F23838" stroke-width="1.0"/>
<text x="169.6" y="388.4" font-family="Liberation Serif, serif" font-size="17">pp = 0%, w/s = 0.4</text>
<text x="169.6" y="409.7" font-family="Liberation Serif, serif" font-size="17">pp = 10%, w/s = 0.4</text>
<text x="8.7" y="359.1" font-family="Liberation Serif, serif" font-size="16" font-weight="bold">(c)</text>
<text x="201.6" y="658.1" font-family="Liberation Serif, serif" font-size="17" text-anchor="middle">Hydration age (day)</text>
<text transform="translate(25.3,571.0) rotate(-90)" font-family="Liberation Serif, serif" font-size="17" text-anchor="start">Number of CP voxels (×10<tspan font-size="11.5" dy="-8">5</tspan><tspan dy="8">)</tspan></text>
</g>
</svg></body></html>
